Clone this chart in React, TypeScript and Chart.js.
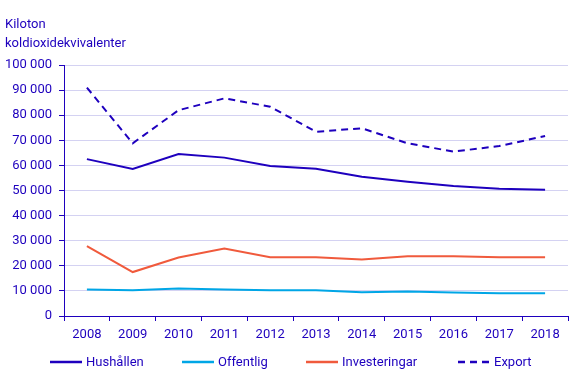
import React, { useEffect, useRef } from "react";
import { Chart, registerables } from "chart.js";

Chart.register(...registerables);

const years = ["2008", "2009", "2010", "2011", "2012", "2013", "2014", "2015", "2016", "2017", "2018"];
const hushallen = [62500, 58600, 64500, 63100, 59800, 58700, 55500, 53500, 51800, 50700, 50300];
const offentlig = [10600, 10300, 11000, 10600, 10300, 10300, 9500, 9800, 9400, 9100, 9100];
const investeringar = [27800, 17500, 23300, 26900, 23400, 23400, 22500, 23800, 23800, 23400, 23400];
const exportData = [91000, 68800, 82000, 86700, 83400, 73400, 74800, 68800, 65500, 67700, 71700];
const titleLines = ["Kiloton", "koldioxidekvivalenter"];

const DARK = "#1e00be";
const LIGHT = "#00a6e6";
const ORANGE = "#f05a3c";
const GRID = "#d4d2f2";
const FONT = "Roboto, 'Liberation Sans', Arial, sans-serif";

function fmt(v: number) {
  return Math.round(v).toString().replace(/\B(?=(\d{3})+(?!\d))/g, " ");
}

const legendStarts = [50, 182, 306, 458];

const decorPlugin = {
  id: "decor",
  afterDraw(chart: any) {
    const ctx = chart.ctx as CanvasRenderingContext2D;
    ctx.save();
    ctx.fillStyle = DARK;
    ctx.font = `13px ${FONT}`;
    ctx.textAlign = "left";
    ctx.textBaseline = "alphabetic";
    titleLines.forEach((t, i) => ctx.fillText(t, 5, 28 + i * 19));
    const ly = 362;
    chart.data.datasets.forEach((ds: any, i: number) => {
      const x = legendStarts[i];
      ctx.beginPath();
      ctx.strokeStyle = ds.borderColor;
      ctx.lineWidth = 2.5;
      ctx.setLineDash(ds.borderDash ? [7, 5] : []);
      ctx.moveTo(x, ly);
      ctx.lineTo(x + 32, ly);
      ctx.stroke();
      ctx.setLineDash([]);
      ctx.fillStyle = DARK;
      ctx.textBaseline = "middle";
      ctx.fillText(ds.label, x + 36, ly + 1);
    });
    ctx.restore();
  },
};

export default function App() {
  const ref = useRef<HTMLCanvasElement | null>(null);
  useEffect(() => {
    if (!ref.current) return;
    const chart = new Chart(ref.current, {
      type: "line",
      data: {
        labels: years,
        datasets: [
          { label: "Hushållen", data: hushallen, borderColor: DARK, backgroundColor: DARK, borderWidth: 2, pointRadius: 0, tension: 0 },
          { label: "Offentlig", data: offentlig, borderColor: LIGHT, backgroundColor: LIGHT, borderWidth: 2, pointRadius: 0, tension: 0 },
          { label: "Investeringar", data: investeringar, borderColor: ORANGE, backgroundColor: ORANGE, borderWidth: 2, pointRadius: 0, tension: 0 },
          { label: "Export", data: exportData, borderColor: DARK, backgroundColor: DARK, borderWidth: 2, borderDash: [7, 5], pointRadius: 0, tension: 0 },
        ],
      },
      options: {
        responsive: false,
        animation: false,
        layout: { padding: { left: 5, right: 4, top: 65, bottom: 48 } },
        plugins: {
          tooltip: { enabled: false },
          title: { display: false },
          legend: { display: false },
        },
        scales: {
          x: {
            offset: true,
            grid: { display: true, drawOnChartArea: false, offset: true, tickLength: 5, tickColor: DARK, lineWidth: 1 },
            border: { color: DARK, width: 1 },
            ticks: { color: DARK, font: { family: FONT, size: 13 }, padding: 6, maxRotation: 0 },
            afterFit: (s: any) => { s.height = 26; },
          },
          y: {
            min: 0,
            max: 100000,
            grid: { color: GRID, tickColor: DARK, tickLength: 5, lineWidth: 1 },
            border: { color: DARK, width: 1 },
            ticks: {
              stepSize: 10000,
              color: DARK,
              font: { family: FONT, size: 13 },
              padding: 7,
              callback: (v: any) => fmt(Number(v)),
            },
            afterFit: (s: any) => { s.width = 59; },
          },
        },
      },
      plugins: [decorPlugin],
    });
    return () => chart.destroy();
  }, []);
  return (
    <div style={{ position: "fixed", left: 0, top: 0, width: 572, height: 390, background: "#fff" }}>
      <canvas ref={ref} width={572} height={390} style={{ width: 572, height: 390 }} />
    </div>
  );
}
